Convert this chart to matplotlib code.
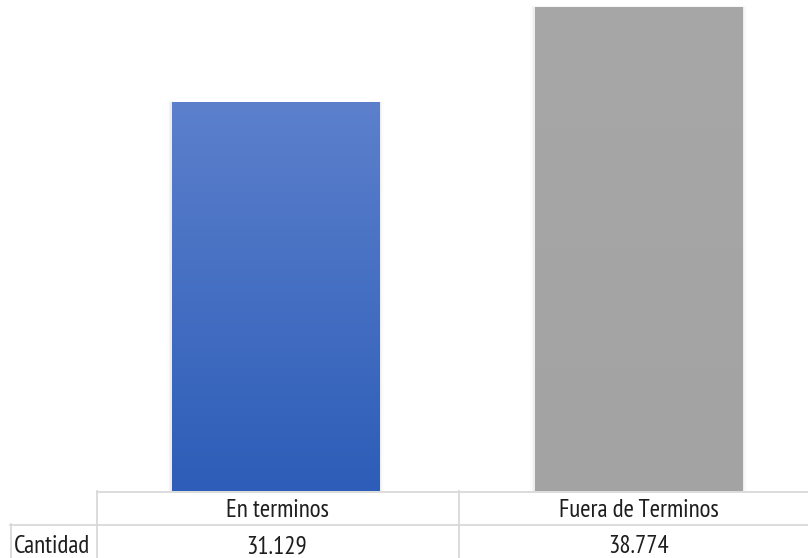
import numpy as np
import matplotlib
matplotlib.use("Agg")
import matplotlib.pyplot as plt
from matplotlib.colors import LinearSegmentedColormap
from matplotlib.patches import Rectangle
from matplotlib import font_manager

categories = ["En terminos", "Fuera de Terminos"]
values = [31.129, 38.774]
value_labels = ["31.129", "38.774"]
row_label = "Cantidad"

W, H = 808, 558
fig = plt.figure(figsize=(W / 100, H / 100), dpi=100)

# pick a narrow sans face for the table text
installed = {f.name for f in font_manager.fontManager.ttflist}
narrow = next((n for n in ["PT Sans Narrow", "Liberation Sans Narrow", "Archivo Narrow",
                           "Roboto Condensed"] if n in installed), "DejaVu Sans")
plt.rcParams["font.family"] = [narrow, "DejaVu Sans"]

# plot area in pixel terms
left_px, right_px = 94, 820
base_px = 491
ax = fig.add_axes([left_px / W, (H - base_px) / H, (right_px - left_px) / W, base_px / H])
ax.axis("off")

bar_w = 0.573
grad_blue = LinearSegmentedColormap.from_list("b", ["#2D5DB8", "#5C80CC"])
grad_gray = LinearSegmentedColormap.from_list("g", ["#A3A3A3", "#A7A7A7"])
cmaps = [grad_blue, grad_gray]

for i, (v, cm) in enumerate(zip(values, cmaps)):
    x0 = i - bar_w / 2
    # soft drop shadow around the bar
    for k, a in enumerate([0.035, 0.022, 0.012]):
        d = 0.004 * (k + 1)
        sh = Rectangle((x0 - d, 0), bar_w + 2 * d, v + d * 8, facecolor="black",
                       alpha=a, edgecolor="none", zorder=1)
        ax.add_patch(sh)
    bar = ax.bar(i, v, width=bar_w, color="none", edgecolor="none", zorder=2)[0]
    grad = np.linspace(0, 1, 256).reshape(-1, 1)
    im = ax.imshow(grad, cmap=cm, aspect="auto", origin="lower",
                   extent=[x0, x0 + bar_w, 0, v], zorder=3)
    im.set_clip_path(bar)

ax.set_xlim(-0.5, 1.5)
ax.set_ylim(0, 39.334)

# data table beneath the bars
line_c = "#D6D6D6"

def hline(x0, x1, y):
    fig.add_artist(plt.Line2D([x0 / W, x1 / W], [1 - y / H, 1 - y / H], color=line_c, lw=1.2,
                              transform=fig.transFigure))

def vline(x, y0, y1):
    fig.add_artist(plt.Line2D([x / W, x / W], [1 - y0 / H, 1 - y1 / H], color=line_c, lw=1.2,
                              transform=fig.transFigure))

hline(97, 808, 491.5)
hline(10, 808, 524.5)
vline(10.5, 524, 558)
vline(96.5, 491, 558)
vline(458.5, 491, 558)

fs = 18
txt_c = "#1e1e1e"
centers = [277, 639]
for xc, cat, lab in zip(centers, categories, value_labels):
    fig.text(xc / W, 1 - 517 / H, cat, ha="center", va="baseline", fontsize=fs, color=txt_c)
    fig.text(xc / W, 1 - 553 / H, lab, ha="center", va="baseline", fontsize=fs, color=txt_c)
fig.text(52 / W, 1 - 553 / H, row_label, ha="center", va="baseline", fontsize=fs, color=txt_c)

fig.savefig("out.png", dpi=100)
